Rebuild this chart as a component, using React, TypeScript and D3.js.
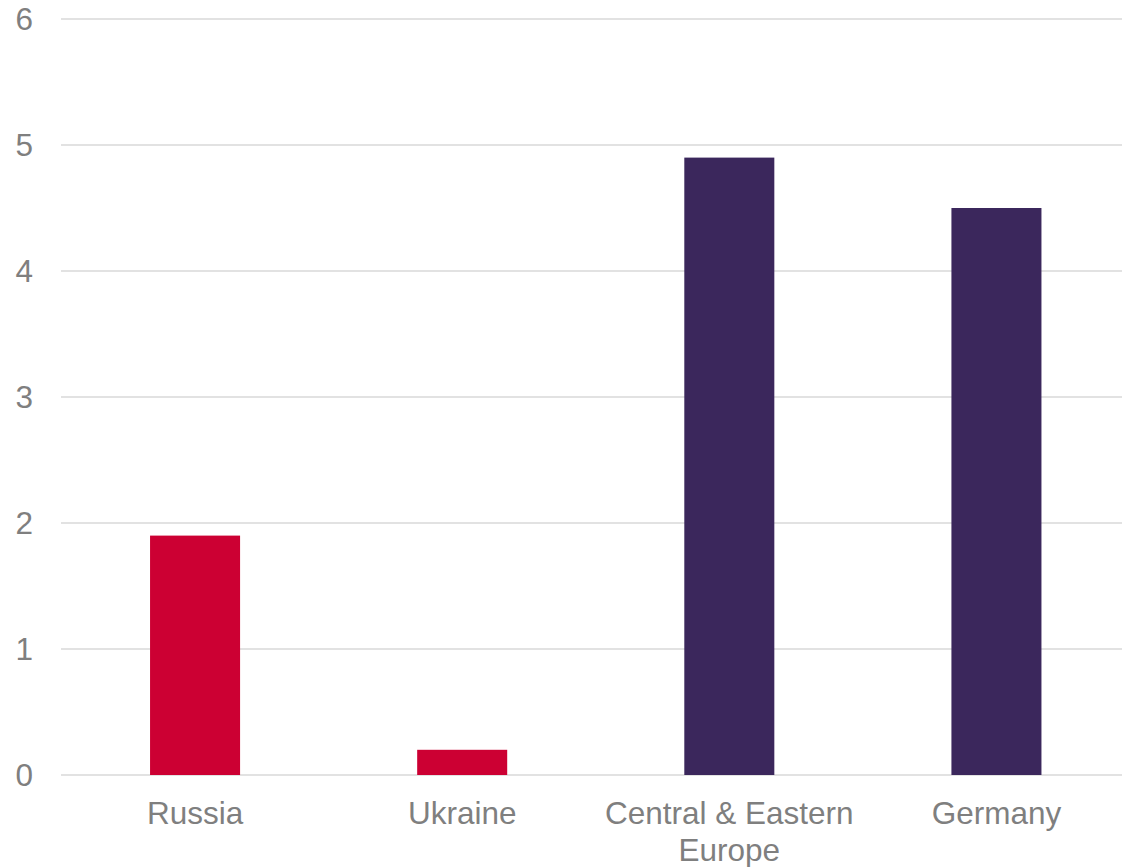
import React from "react";
import * as d3 from "d3";

const categories = ["Russia", "Ukraine", "Central & Eastern Europe", "Germany"];
const values = [1.9, 0.2, 4.9, 4.5];
const barColors = ["#CC0033", "#CC0033", "#3B275C", "#3B275C"];
const yTicks = [0, 1, 2, 3, 4, 5, 6];
const labelLines: string[][] = [["Russia"], ["Ukraine"], ["Central & Eastern", "Europe"], ["Germany"]];

export default function App() {
  const W = 1122, H = 867;
  const x = d3.scaleBand<string>().domain(categories).range([61.5, 1130]).paddingInner(0.663).paddingOuter(0.3315);
  const y = d3.scaleLinear().domain([0, 6]).range([775, 19]);
  const font = "'Liberation Sans', Arial, sans-serif";
  return (
    <svg width={W} height={H} style={{ position: "absolute", left: 0, top: 0, background: "#fff" }}>
      {yTicks.map((t) => (
        <g key={t}>
          <line x1={61} x2={W} y1={y(t)} y2={y(t)} stroke="#d9d9d9" strokeWidth={1.5} />
          <text x={33} y={y(t)} dy="0.35em" textAnchor="end" fontFamily={font} fontSize={31.5} fill="#7f7f7f">{t}</text>
        </g>
      ))}
      {categories.map((c, i) => (
        <rect key={c} x={x(c)} y={y(values[i])} width={x.bandwidth()} height={y(0) - y(values[i])} fill={barColors[i]} />
      ))}
      {categories.map((c, i) => (
        <text key={c} x={(x(c) as number) + x.bandwidth() / 2} y={824} textAnchor="middle" fontFamily={font} fontSize={31.5} fill="#7f7f7f">
          {labelLines[i].map((l, j) => (
            <tspan key={j} x={(x(c) as number) + x.bandwidth() / 2} dy={j === 0 ? 0 : 37}>{l}</tspan>
          ))}
        </text>
      ))}
    </svg>
  );
}
